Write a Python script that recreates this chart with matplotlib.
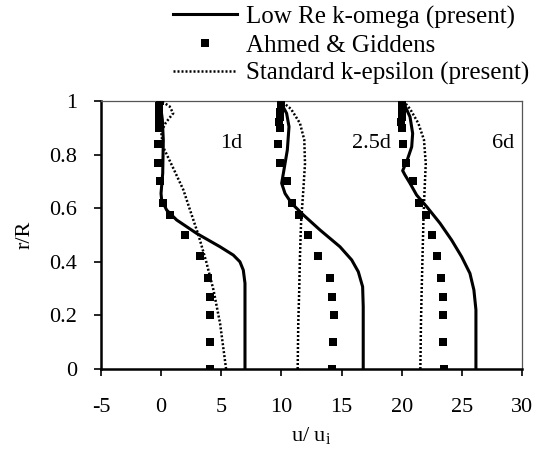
import matplotlib
matplotlib.use("Agg")
import matplotlib.pyplot as plt
from matplotlib.lines import Line2D

plt.rcParams['font.family'] = ['Liberation Serif', 'DejaVu Serif']
plt.rcParams['mathtext.fontset'] = 'custom'
plt.rcParams['mathtext.rm'] = 'Liberation Serif'
plt.rcParams['mathtext.it'] = 'Liberation Serif:italic'
plt.rcParams['axes.unicode_minus'] = False

# Station offsets and labels
stations = ["1d", "2.5d", "6d"]
offsets = [0, 10, 20]

# Experimental data (Ahmed & Giddens): r/R and u/ui (relative to station offset)
exp_r = [0.0, 0.10, 0.20, 0.27, 0.34, 0.42, 0.50, 0.575, 0.62, 0.70, 0.77, 0.84,
         0.90, 0.92, 0.94, 0.96, 0.98, 1.0]
exp_1d = [4.1, 4.05, 4.05, 4.05, 3.9, 3.2, 2.0, 0.75, 0.15, -0.1, -0.25, -0.25,
          -0.2, -0.2, -0.2, -0.2, -0.15, -0.1]
exp_25d = [4.2, 4.25, 4.4, 4.2, 4.05, 3.0, 2.2, 1.5, 0.85, 0.45, -0.1, -0.3,
           -0.15, -0.2, -0.15, -0.1, -0.05, 0.0]
exp_6d = [3.5, 3.45, 3.45, 3.4, 3.25, 2.9, 2.55, 2.0, 1.45, 0.9, 0.35, 0.1,
          0.0, -0.05, 0.0, 0.0, 0.0, 0.0]

# Low Re k-omega (present)
kw_r1 = [0.0, 0.10, 0.20, 0.32, 0.369, 0.40, 0.425, 0.456, 0.506, 0.556, 0.593,
         0.631, 0.655, 0.73, 0.854, 0.93, 1.0]
kw_1d = [6.97, 6.97, 6.97, 6.97, 6.83, 6.55, 6.0, 4.9, 2.95, 1.29, 0.46,
         0.04, -0.01, 0.13, 0.18, 0.1, -0.1]
kw_r25 = [0.0, 0.10, 0.233, 0.307, 0.363, 0.407, 0.456, 0.519, 0.575, 0.618,
          0.655, 0.693, 0.743, 0.817, 0.904, 0.954, 1.0]
kw_25d = [6.8, 6.8, 6.8, 6.75, 6.39, 5.84, 4.87, 3.2, 1.82, 0.85,
          0.3, 0.02, 0.21, 0.49, 0.63, 0.43, -0.12]
kw_r6 = [0.0, 0.10, 0.221, 0.295, 0.357, 0.419, 0.481, 0.544, 0.606, 0.649,
         0.693, 0.724, 0.74, 0.78, 0.829, 0.879, 0.941, 1.0]
kw_6d = [6.17, 6.17, 6.17, 6.0, 5.67, 4.98, 4.15, 3.18, 2.07, 1.24,
         0.69, 0.27, 0.08, 0.46, 0.83, 0.91, 0.69, 0.08]

# Standard k-epsilon (present)
ke_r1 = [0.0, 0.17, 0.295, 0.40, 0.50, 0.58, 0.668, 0.75, 0.83, 0.885, 0.92,
         0.954, 0.98, 1.0]
ke_1d = [5.4, 4.9, 4.35, 3.75, 3.1, 2.5, 1.85, 1.0, 0.15, 0.0, 0.4,
         1.0, 0.7, 0.0]
ke_r = [0.0, 0.17, 0.295, 0.419, 0.544, 0.668, 0.767, 0.855, 0.917, 0.97, 1.0]
ke_25d = [1.35, 1.4, 1.48, 1.54, 1.63, 1.82, 1.96, 1.9, 1.54, 0.8, 0.0]
ke_6d = [1.55, 1.6, 1.66, 1.73, 1.8, 1.9, 2.0, 1.85, 1.38, 0.7, 0.15]

exp_sets = [exp_1d, exp_25d, exp_6d]
kw_sets = [(kw_r1, kw_1d), (kw_r25, kw_25d), (kw_r6, kw_6d)]
ke_sets = [(ke_r1, ke_1d), (ke_r, ke_25d), (ke_r, ke_6d)]
label_pos_u = [4.9, 15.9, 27.5]

fig = plt.figure(figsize=(5.4, 4.54), dpi=100)
ax = fig.add_axes([101/540, 1 - 369/454, 421/540, 268/454])

for i, off in enumerate(offsets):
    r, u = kw_sets[i]
    ax.plot([v + off for v in u], r, color='black', lw=2.2, solid_capstyle='butt',
            solid_joinstyle='round', zorder=3)
    r, u = ke_sets[i]
    ax.plot([v + off for v in u], r, color='black', lw=1.8, linestyle=(0, (0.8, 0.8)), zorder=3)
    ax.plot([v + off for v in exp_sets[i]], exp_r, linestyle='none', marker='s',
            markersize=5.2, color='black', markeredgewidth=0, zorder=4)
    ax.text(label_pos_u[i], 0.843, stations[i], fontsize=16, ha='left', va='center')

ax.set_xlim(-5, 30)
ax.set_ylim(0, 1)
ax.set_xticks([-5, 0, 5, 10, 15, 20, 25, 30])
ax.set_yticks([0, 0.2, 0.4, 0.6, 0.8, 1.0])
ax.set_yticklabels(['0', '0.2', '0.4', '0.6', '0.8', '1'])
ax.tick_params(axis='both', direction='out', length=5, width=1.2, labelsize=16, color='black')
ax.tick_params(axis='x', pad=16)
ax.tick_params(axis='y', pad=12)

for s in ['left', 'bottom']:
    ax.spines[s].set_linewidth(1.8)
    ax.spines[s].set_color('black')
for s in ['top', 'right']:
    ax.spines[s].set_linewidth(0.9)
    ax.spines[s].set_color('#555555')

ax.set_ylabel('r/R', fontsize=16)
ax.yaxis.set_label_coords(-0.157, 0.5)
ax.set_xlabel(r'u/ u$_{\rm i}$', fontsize=16)
ax.xaxis.set_label_coords(0.5, -0.21)

handles = [
    Line2D([], [], color='black', lw=2.2),
    Line2D([], [], color='black', marker='s', linestyle='none', markersize=5.2, markeredgewidth=0),
    Line2D([], [], color='black', lw=1.8, linestyle=(0, (0.8, 0.8))),
]
labels = ['Low Re k-omega (present)', 'Ahmed & Giddens', 'Standard k-epsilon (present)']
fig.legend(handles, labels, loc='upper left', bbox_to_anchor=(173/540, 1 - 5.5/454),
           frameon=False, fontsize=18, handlelength=2.56, handletextpad=0.36,
           labelspacing=0.22, borderpad=0, borderaxespad=0)

fig.savefig('out.png', dpi=100)
